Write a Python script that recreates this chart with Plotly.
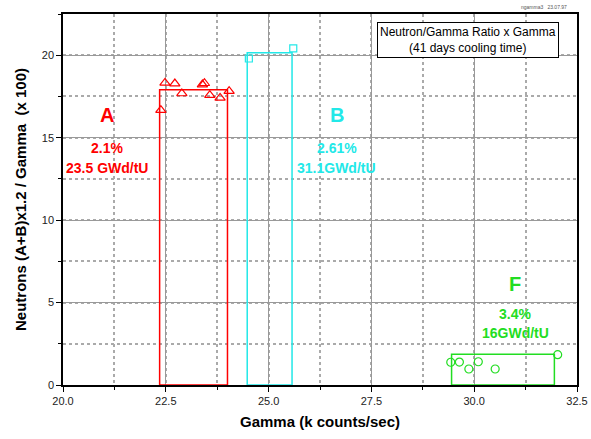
import plotly.graph_objects as go

# ---- data ----
a_x = [22.38, 22.48, 22.72, 22.89, 23.39, 23.44, 23.57, 23.82, 24.04]
a_y = [16.67, 18.32, 18.28, 17.68, 18.22, 18.30, 17.58, 17.41, 17.82]
b_x = [24.52, 25.60]
b_y = [19.80, 20.41]
f_x = [29.43, 29.64, 29.87, 30.10, 30.51, 32.03]
f_y = [1.38, 1.39, 0.97, 1.41, 0.97, 1.84]

groups = ["A", "B", "F"]
box_left = [22.35, 24.48, 29.45]
box_right = [24.00, 25.57, 31.95]
box_top = [17.90, 20.15, 1.86]
colors = ["#ff0000", "#22e8e8", "#22dd22"]
pct = ["2.1%", "2.61%", "3.4%"]
burnup = ["23.5 GWd/tU", "31.1GWd/tU", "16GWd/tU"]
label_x = [21.08, 26.66, 31.0]
letter_y = [16.4, 16.4, 6.1]
pct_y = [14.4, 14.4, 4.3]
burn_y = [13.15, 13.15, 3.15]

x_ticks = [20.0, 22.5, 25.0, 27.5, 30.0, 32.5]
y_ticks = [0, 5, 10, 15, 20]

fig = go.Figure()

# boxes
for i in range(3):
    fig.add_trace(go.Scatter(
        x=[box_left[i], box_left[i], box_right[i], box_right[i], box_left[i]],
        y=[0, box_top[i], box_top[i], 0, 0],
        mode="lines", line=dict(color=colors[i], width=1.5),
        showlegend=False, hoverinfo="skip"))

fig.add_trace(go.Scatter(x=a_x, y=a_y, mode="markers",
    marker=dict(symbol="triangle-up-open", size=9, color=colors[0], line=dict(width=1.2)),
    showlegend=False))
fig.add_trace(go.Scatter(x=b_x, y=b_y, mode="markers",
    marker=dict(symbol="square-open", size=7, color=colors[1], line=dict(width=1.2)),
    showlegend=False))
fig.add_trace(go.Scatter(x=f_x, y=f_y, mode="markers",
    marker=dict(symbol="circle-open", size=8, color=colors[2], line=dict(width=1.2)),
    showlegend=False))

for i in range(3):
    fig.add_annotation(x=label_x[i], y=letter_y[i], text="<b>%s</b>" % groups[i],
                       showarrow=False, font=dict(size=20, color=colors[i], family="Arial"))
    fig.add_annotation(x=label_x[i], y=pct_y[i], text="<b>%s</b>" % pct[i],
                       showarrow=False, font=dict(size=14, color=colors[i], family="Arial"))
    fig.add_annotation(x=label_x[i], y=burn_y[i], text="<b>%s</b>" % burnup[i],
                       showarrow=False, font=dict(size=14, color=colors[i], family="Arial"))

# legend-like title box
fig.add_annotation(xref="paper", yref="paper", x=0.788, y=0.978,
                   text="Neutron/Gamma Ratio x Gamma<br>(41 days cooling time)",
                   showarrow=False, align="center",
                   font=dict(size=12, color="black", family="Arial"),
                   bordercolor="black", borderwidth=1, borderpad=2,
                   bgcolor="white", xanchor="center", yanchor="top")
fig.add_annotation(xref="paper", yref="paper", x=0.985, y=1.0, yshift=7,
                   text="ngamma3   23.07.97", showarrow=False,
                   font=dict(size=5, color="#555", family="Arial"),
                   xanchor="right", yanchor="middle")

axis_common = dict(
    showline=True, mirror=True, linecolor="black", linewidth=1.5,
    ticks="outside", ticklen=5, tickcolor="black",
    showgrid=True, gridcolor="#999999", gridwidth=1,
    zeroline=False, automargin=False,
    tickfont=dict(size=11, color="#222", family="Arial"),
)

fig.update_xaxes(**axis_common, range=[20, 32.5], tickvals=x_ticks,
                 ticktext=["%.1f" % v for v in x_ticks],
                 minor=dict(dtick=1.25, tick0=20, ticks="outside", ticklen=3, tickcolor="black",
                            showgrid=True, gridcolor="#aaaaaa", griddash="dot", gridwidth=1.5),
                 title=dict(text="<b>Gamma (k counts/sec)</b>", standoff=11,
                            font=dict(size=15, color="black", family="Arial")))
fig.update_yaxes(**axis_common, range=[0, 22.5], tickvals=y_ticks,
                 minor=dict(dtick=2.5, tick0=0, ticks="outside", ticklen=3, tickcolor="black",
                            showgrid=True, gridcolor="#aaaaaa", griddash="dot", gridwidth=1.5),
                 title=dict(text="<b>Neutrons (A+B)x1.2 / Gamma  (x 100)</b>", standoff=12,
                            font=dict(size=15, color="black", family="Arial")))

fig.update_layout(width=591, height=439, margin=dict(l=63, r=14, t=14, b=54),
                  plot_bgcolor="white", paper_bgcolor="white", showlegend=False)

fig.write_html("out.html", config={"displayModeBar": False},
               post_script="document.body.style.margin='0';document.body.style.overflow='hidden';")
